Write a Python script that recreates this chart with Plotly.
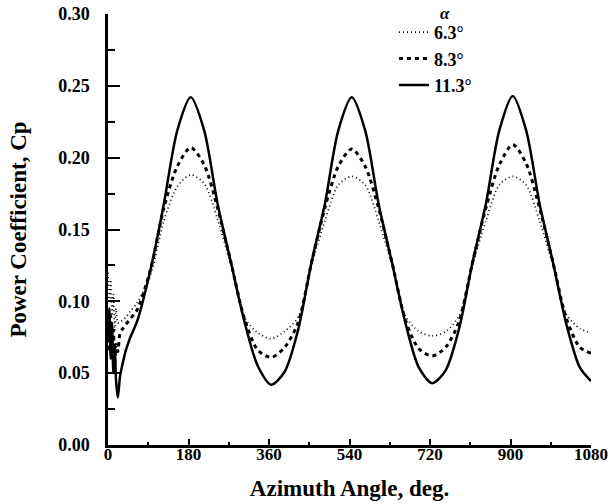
import plotly.graph_objects as go

# Azimuth angle (deg)
azimuth = [0, 3, 6, 9, 12, 15, 18, 22, 27, 33, 40, 50,
           65, 95, 125, 155, 185, 215, 245, 275, 305, 335,
           365, 395, 425, 455, 485, 515, 545, 575, 605, 635, 665, 695,
           725, 755, 785, 815, 845, 875, 905, 935, 965, 995, 1025, 1055, 1080]

# Power coefficient, alpha = 11.3 deg (solid)
cp_113 = [0.075, 0.095, 0.060, 0.085, 0.050, 0.070, 0.045, 0.033, 0.048, 0.057, 0.066, 0.075,
          0.086, 0.122, 0.168, 0.219, 0.242, 0.219, 0.168, 0.127, 0.086, 0.055,
          0.042, 0.051, 0.080, 0.127, 0.168, 0.219, 0.242, 0.219, 0.168, 0.127, 0.085, 0.054,
          0.043, 0.052, 0.081, 0.127, 0.168, 0.219, 0.243, 0.219, 0.168, 0.127, 0.084, 0.054, 0.0445]

# alpha = 8.3 deg (dashed)
cp_83 = [0.080, 0.065, 0.090, 0.060, 0.080, 0.055, 0.070, 0.065, 0.078, 0.081, 0.084, 0.088,
         0.094, 0.122, 0.165, 0.194, 0.207, 0.195, 0.165, 0.127, 0.088, 0.066,
         0.061, 0.068, 0.085, 0.127, 0.165, 0.194, 0.206, 0.194, 0.165, 0.127, 0.087, 0.067,
         0.062, 0.068, 0.086, 0.127, 0.165, 0.195, 0.209, 0.196, 0.165, 0.127, 0.088, 0.068, 0.064]

# alpha = 6.3 deg (dotted)
cp_63 = [0.120, 0.100, 0.115, 0.090, 0.105, 0.080, 0.095, 0.085, 0.086, 0.087, 0.089, 0.093,
         0.099, 0.118, 0.156, 0.180, 0.188, 0.182, 0.157, 0.125, 0.089, 0.078,
         0.074, 0.079, 0.089, 0.125, 0.156, 0.181, 0.187, 0.181, 0.156, 0.125, 0.090, 0.079,
         0.076, 0.079, 0.090, 0.125, 0.156, 0.181, 0.187, 0.181, 0.156, 0.125, 0.091, 0.081, 0.078]

series_names = ["6.3°", "8.3°", "11.3°"]
legend_title = "α"

x_ticks = [0, 180, 360, 540, 720, 900, 1080]
y_ticks = [0.00, 0.05, 0.10, 0.15, 0.20, 0.25, 0.30]

FONT = "Liberation Serif"

fig = go.Figure()
fig.add_trace(go.Scatter(x=azimuth, y=cp_63, mode="lines", name=series_names[0],
                         line=dict(color="black", width=1.7, dash="1px,3px", shape="spline", smoothing=0.8)))
fig.add_trace(go.Scatter(x=azimuth, y=cp_83, mode="lines", name=series_names[1],
                         line=dict(color="black", width=3, dash="4px,4px", shape="spline", smoothing=0.8)))
fig.add_trace(go.Scatter(x=azimuth, y=cp_113, mode="lines", name=series_names[2],
                         line=dict(color="black", width=2.5, shape="spline", smoothing=0.8)))

fig.update_layout(
    width=613, height=504,
    margin=dict(l=108, r=22, t=14, b=59, autoexpand=False),
    paper_bgcolor="white", plot_bgcolor="white",
    font=dict(family=FONT, size=16, color="black", weight="bold"),
    showlegend=True,
    legend=dict(
        x=0.592, y=1.0, xanchor="left", yanchor="top",
        bgcolor="rgba(0,0,0,0)",
        font=dict(family=FONT, size=18, color="black", weight="bold"),
        itemwidth=30, tracegroupgap=0,
    ),
    annotations=[dict(text="<i>" + legend_title + "</i>", xref="paper", yref="paper",
                      x=0.697, y=1.002, xanchor="center", yanchor="middle", showarrow=False,
                      font=dict(family=FONT, size=17, weight="bold"))],
)

fig.update_xaxes(
    range=[0, 1080], tickvals=x_ticks, ticktext=[str(v) for v in x_ticks],
    showgrid=False, zeroline=False, showline=True, linecolor="black", linewidth=2.5,
    ticks="inside", ticklen=6, tickwidth=2, tickcolor="black",
    minor=dict(dtick=90, tick0=0, ticks="inside", ticklen=3, tickwidth=1.5, tickcolor="black"),
    tickfont=dict(family=FONT, size=17, weight="bold"),
    ticklabelstandoff=-8,
    title=dict(text="Azimuth Angle, deg.", font=dict(family=FONT, size=23, weight="bold"), standoff=17),
)
fig.update_yaxes(
    range=[0, 0.30], tickvals=y_ticks, ticktext=[f"{v:.2f}" for v in y_ticks],
    showgrid=False, zeroline=False, showline=True, linecolor="black", linewidth=2.5,
    ticks="inside", ticklen=12, tickwidth=2, tickcolor="black",
    minor=dict(dtick=0.025, tick0=0, ticks="inside", ticklen=7, tickwidth=1.5, tickcolor="black"),
    tickfont=dict(family=FONT, size=18, weight="bold"),
    ticklabelstandoff=12,
    title=dict(text="Power Coefficient, Cp", font=dict(family=FONT, size=23, weight="bold"), standoff=26),
)

fig.write_html("out.html")
